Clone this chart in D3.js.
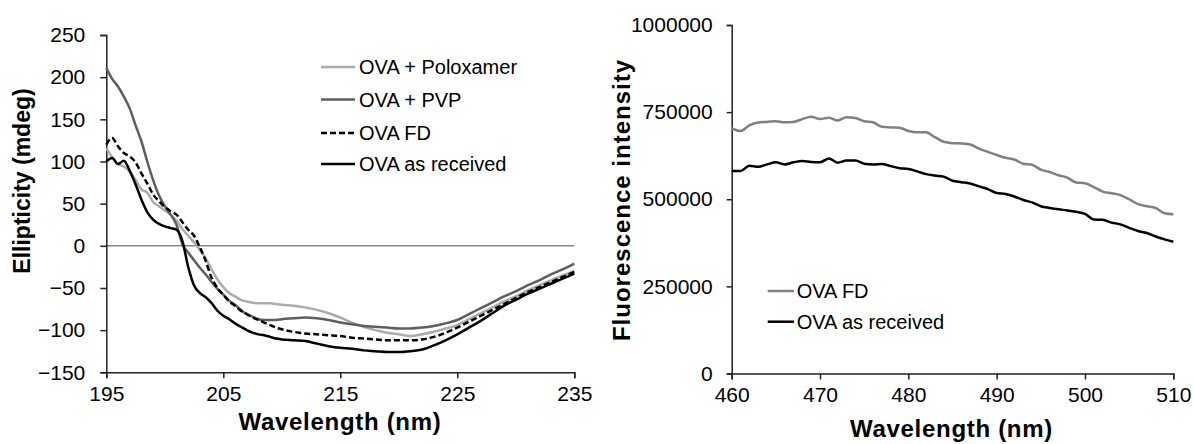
<!DOCTYPE html>
<html><head><meta charset="utf-8">
<script src="https://cdn.jsdelivr.net/npm/d3@7"></script>
<style>
html,body{margin:0;padding:0;background:#fff;}
svg{display:block;font-family:"Liberation Sans",Arial,sans-serif;}
</style></head>
<body>
<svg id="chart" width="1193" height="444"></svg>
<script>
// ---- CD spectra (left) ----
const cdWavelength = [195,195.5,196,196.5,197,197.5,198,198.5,199,199.5,200,200.5,201,201.5,202,202.5,203,203.5,204,204.5,205,205.5,206,206.5,207,207.5,208,208.5,209,209.5,210,211,212,213,214,215,216,217,218,219,220,221,222,223,224,225,226,227,228,229,230,231,232,233,234,235];
const cdPoloxamer = [116,105,97,94,88,78,67,63,52,47,42,37,30,20,12,4,-5,-15,-28,-40,-49,-56,-60,-64,-66,-67.5,-68,-68,-68,-69,-70,-71,-73,-76,-80,-85,-91,-96,-100,-103,-105,-107,-105,-102,-98,-94,-87,-80,-73,-66,-60,-53,-47,-41,-35,-30];
const cdPVP = [211,198,189,177,163,143,124,100,78,60,47,37,25,2,-8,-17,-26,-34,-43,-51,-58,-65,-70,-76,-81,-84,-87,-88,-88,-88,-87,-86,-85,-86,-88,-91,-93,-95,-96,-97,-98,-98,-97,-95,-92,-88,-81,-74,-67,-60,-54,-47,-41,-34,-28,-21];
const cdFD = [120,128,118,110,106,99,86,74,61,53,46,41,37,28,19,12,-2,-18,-38,-50,-58,-66,-71,-77,-81,-85,-88,-91,-94,-97,-99,-102,-104,-105,-106,-107,-109,-110,-111,-112,-112,-112,-111,-108,-103,-97,-90,-83,-76,-69,-62,-55,-49,-43,-37,-31];
const cdReceived = [100,104,97,101,89,73,55,40,31,26,23,21,19,6,-25,-47,-56,-61,-68,-77,-83,-87,-92,-96,-100,-103,-105,-106,-108,-110,-111,-112,-113,-116,-119,-121,-122,-124,-125,-126,-126,-125,-123,-118,-112,-105,-97,-89,-80,-71,-64,-57,-51,-45,-39,-33];
const cdSeriesNames = ["OVA + Poloxamer","OVA + PVP","OVA FD","OVA as received"];
const cdXTicks = [195,205,215,225,235];
const cdYTicks = [-150,-100,-50,0,50,100,150,200,250];

// ---- Fluorescence spectra (right) ----
const flWavelength = [460,461,462,463,464,465,466,467,468,469,470,471,472,473,474,475,476,477,478,479,480,481,482,483,484,485,486,487,488,489,490,491,492,493,494,495,496,497,498,499,500,501,502,503,504,505,506,507,508,509,510];
const flFD = [703,696,712,720,722,724,721,722,730,737,730,734,726,735,733,724,721,708,706,705,696,692,692,678,665,661,660,657,645,636,627,619,614,602,599,585,578,569,562,548,546,535,522,517,512,500,486,480,475,460,457].map(v=>v*1000);
const flReceived = [581,581,596,593,600,606,600,606,610,607,606,617,605,611,611,602,600,601,595,589,587,580,572,568,565,553,549,545,537,529,518,515,508,498,491,480,475,471,468,464,458,442,441,433,428,418,409,403,393,385,378].map(v=>v*1000);
const flSeriesNames = ["OVA FD","OVA as received"];
const flXTicks = [460,470,480,490,500,510];
const flYTicks = [0,250000,500000,750000,1000000];

const svg = d3.select("#chart");

// ================= LEFT CHART =================
{
  const x = d3.scaleLinear().domain([195,235]).range([106.3,574.3]);
  const y = d3.scaleLinear().domain([-150,250]).range([372.3,35]);
  const g = svg.append("g");

  // zero line
  g.append("line").attr("x1",x(195)).attr("x2",x(235)).attr("y1",y(0)).attr("y2",y(0))
    .attr("stroke","#868686").attr("stroke-width",1.5);

  const xAxis = g.append("g").attr("transform",`translate(0,${y(-150)})`)
    .call(d3.axisBottom(x).tickValues(cdXTicks).tickSize(6).tickPadding(8).tickFormat(d3.format("d")));
  const yAxis = g.append("g").attr("transform",`translate(${x(195)},0)`)
    .call(d3.axisLeft(y).tickValues(cdYTicks).tickSize(6).tickPadding(15).tickFormat(d3.format("d")));
  [xAxis,yAxis].forEach(a=>{
    a.select(".domain").attr("stroke","#222").attr("stroke-width",1.5);
    a.selectAll(".tick line").attr("stroke","#222").attr("stroke-width",1.5);
    a.selectAll("text").attr("font-size","21px").attr("fill","#000").attr("font-family","Liberation Sans, Arial, sans-serif");
  });
  xAxis.selectAll("text").attr("dy","0.71em");

  const series = [
    {name:cdSeriesNames[0], values:cdPoloxamer, color:"#ababab", dash:null},
    {name:cdSeriesNames[1], values:cdPVP, color:"#5e5e5e", dash:null},
    {name:cdSeriesNames[2], values:cdFD, color:"#000", dash:"6,3"},
    {name:cdSeriesNames[3], values:cdReceived, color:"#000", dash:null}
  ];
  const line = d3.line().x((d,i)=>x(cdWavelength[i])).y(d=>y(d)).curve(d3.curveMonotoneX);
  series.forEach(s=>{
    g.append("path").attr("d",line(s.values)).attr("fill","none")
      .attr("stroke",s.color).attr("stroke-width",2.5)
      .attr("stroke-dasharray",s.dash).attr("stroke-linejoin","round");
  });

  // legend
  const legY = [67,99.5,133,164];
  series.forEach((s,i)=>{
    g.append("line").attr("x1",321).attr("x2",355).attr("y1",legY[i]).attr("y2",legY[i])
      .attr("stroke",s.color).attr("stroke-width",2.5).attr("stroke-dasharray",s.dash);
    g.append("text").attr("x",359).attr("y",legY[i]).attr("dy","0.36em")
      .attr("font-size","20px").attr("fill","#000").text(s.name);
  });

  // titles
  g.append("text").attr("x",340).attr("y",430).attr("text-anchor","middle")
    .attr("font-size","24px").attr("font-weight","bold").attr("letter-spacing","0.7px")
    .text("Wavelength (nm)");
  g.append("text").attr("transform","translate(30,181) rotate(-90)").attr("text-anchor","middle")
    .attr("font-size","23px").attr("font-weight","bold")
    .text("Ellipticity (mdeg)");
}

// ================= RIGHT CHART =================
{
  const x = d3.scaleLinear().domain([460,510]).range([731.7,1173.3]);
  const y = d3.scaleLinear().domain([0,1000000]).range([373.5,25]);
  const g = svg.append("g");

  const xAxis = g.append("g").attr("transform",`translate(0,${y(0)})`)
    .call(d3.axisBottom(x).tickValues(flXTicks).tickSize(6).tickPadding(8).tickFormat(d3.format("d")));
  const yAxis = g.append("g").attr("transform",`translate(${x(460)},0)`)
    .call(d3.axisLeft(y).tickValues(flYTicks).tickSize(5).tickPadding(14).tickFormat(d3.format("d")));
  [xAxis,yAxis].forEach(a=>{
    a.select(".domain").attr("stroke","#222").attr("stroke-width",1.5);
    a.selectAll(".tick line").attr("stroke","#222").attr("stroke-width",1.5);
    a.selectAll("text").attr("font-size","21px").attr("fill","#000").attr("font-family","Liberation Sans, Arial, sans-serif");
  });
  xAxis.selectAll("text").attr("dy","0.71em");

  const series = [
    {name:flSeriesNames[0], values:flFD, color:"#808080"},
    {name:flSeriesNames[1], values:flReceived, color:"#000"}
  ];
  const line = d3.line().x((d,i)=>x(flWavelength[i])).y(d=>y(d)).curve(d3.curveMonotoneX);
  series.forEach(s=>{
    g.append("path").attr("d",line(s.values)).attr("fill","none")
      .attr("stroke",s.color).attr("stroke-width",2.5).attr("stroke-linejoin","round");
  });

  const legY = [291,321.7];
  series.forEach((s,i)=>{
    g.append("line").attr("x1",767.7).attr("x2",794).attr("y1",legY[i]).attr("y2",legY[i])
      .attr("stroke",s.color).attr("stroke-width",2.5);
    g.append("text").attr("x",796.7).attr("y",legY[i]).attr("dy","0.36em")
      .attr("font-size","20px").attr("fill","#000").text(s.name);
  });

  g.append("text").attr("x",951.5).attr("y",437).attr("text-anchor","middle")
    .attr("font-size","24px").attr("font-weight","bold").attr("letter-spacing","0.7px")
    .text("Wavelength (nm)");
  g.append("text").attr("transform","translate(630,200) rotate(-90)").attr("text-anchor","middle")
    .attr("font-size","24px").attr("font-weight","bold").attr("letter-spacing","1px")
    .text("Fluorescence intensity");
}
</script>
</body></html>
